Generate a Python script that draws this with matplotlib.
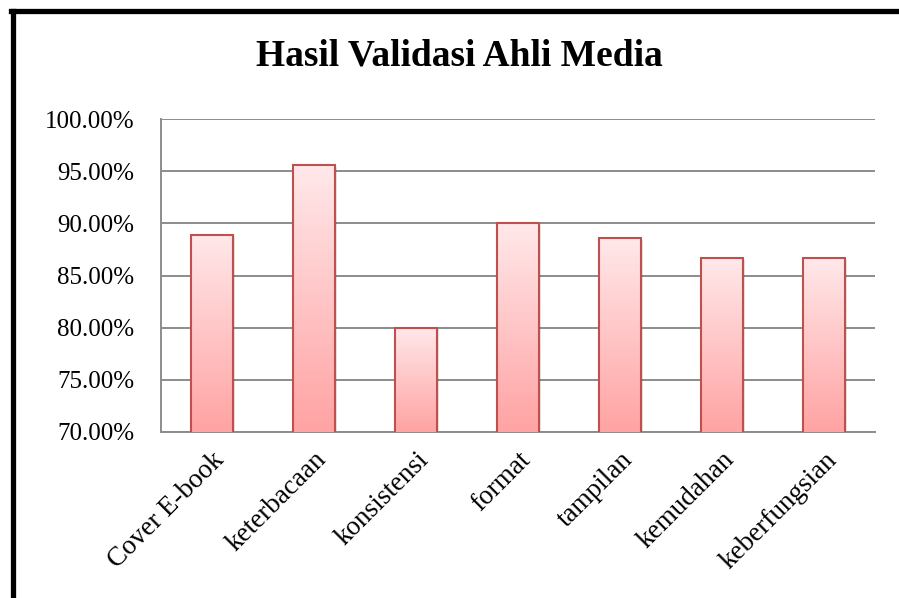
import numpy as np
import matplotlib
matplotlib.use('Agg')
import matplotlib.pyplot as plt
from matplotlib.colors import LinearSegmentedColormap
from matplotlib.ticker import PercentFormatter
from matplotlib.lines import Line2D

categories = ['Cover E-book', 'keterbacaan', 'konsistensi', 'format',
              'tampilan', 'kemudahan', 'keberfungsian']
values = [88.89, 95.56, 80.00, 90.00, 88.57, 86.67, 86.67]

plt.rcParams['font.family'] = ['Liberation Serif', 'DejaVu Serif']

fig = plt.figure(figsize=(8.99, 5.98), dpi=100)
fig.patch.set_facecolor('white')
ax = fig.add_axes([161 / 899, 166 / 598, 714 / 899, 313 / 598])

x = np.arange(len(categories))
bars = ax.bar(x, values, width=0.41, bottom=0, facecolor='none',
              edgecolor='#C0504D', linewidth=1.5, zorder=4)

# gradient fill, light pink at top to salmon at bottom
cmap = LinearSegmentedColormap.from_list('pinkgrad', ['#FFA3A3', '#FFE8EA'])
grad = np.linspace(0, 1, 256).reshape(-1, 1)
for b in bars:
    x0 = b.get_x()
    w = b.get_width()
    h = b.get_height()
    # soft shadow
    ax.bar(x0 + w / 2 + 0.02, h - 0.15, width=w, bottom=0, color='#000000',
           alpha=0.10, linewidth=0, zorder=2)
    im = ax.imshow(grad, cmap=cmap, origin='lower', aspect='auto',
                   extent=[x0, x0 + w, 70, h], zorder=3)
    im.set_clip_path(b)

ax.set_xlim(-0.5, len(categories) - 0.5)
ax.set_ylim(70, 100)
ax.set_yticks([70, 75, 80, 85, 90, 95, 100])
ax.yaxis.set_major_formatter(PercentFormatter(decimals=2))
ax.yaxis.grid(True, color='#8C8C8C', linewidth=1.4, zorder=1)
ax.set_axisbelow(True)

for s in ['top', 'right']:
    ax.spines[s].set_visible(False)
for s in ['left', 'bottom']:
    ax.spines[s].set_color('#8C8C8C')
    ax.spines[s].set_linewidth(1.4)

ax.tick_params(axis='y', length=0, pad=19, labelsize=18)
ax.tick_params(axis='x', length=0, pad=11, labelsize=19.5)
ax.set_xticks(x)
ax.set_xticklabels(categories, rotation=45, ha='right', va='top',
                   rotation_mode='anchor')

fig.text(0.511, 0.906, 'Hasil Validasi Ahli Media', ha='center', va='center',
         fontsize=27, fontweight='bold')

# outer black frame (left and top edges)
fig.add_artist(Line2D([12.5 / 899, 12.5 / 899], [0, 1 - 10.5 / 598],
                      transform=fig.transFigure, color='black', linewidth=3.8))
fig.add_artist(Line2D([10.5 / 899, 1], [1 - 10.5 / 598, 1 - 10.5 / 598],
                      transform=fig.transFigure, color='black', linewidth=3.8))

fig.savefig('out.png', dpi=100)
